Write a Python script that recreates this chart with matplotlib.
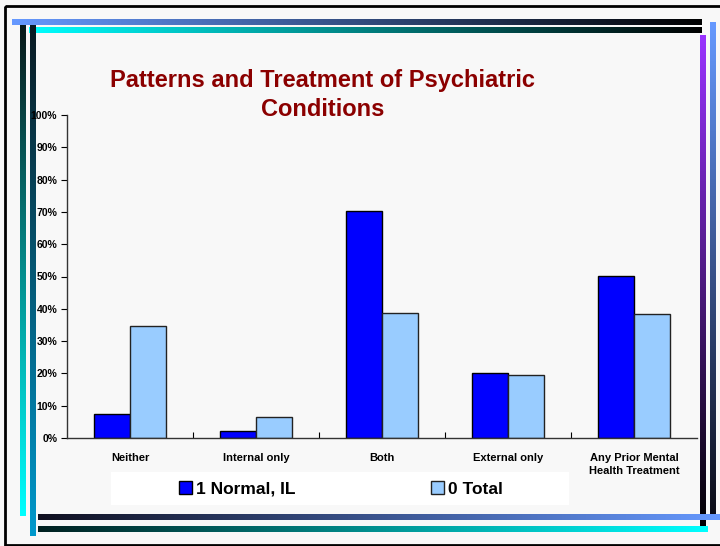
import matplotlib.pyplot as plt
import numpy as np
from matplotlib.patches import Rectangle

plt.rcParams['font.family'] = ['Liberation Sans', 'DejaVu Sans']

categories = ["Neither", "Internal only", "Both", "External only", "Any Prior Mental\nHealth Treatment"]
normal_il = [7.4, 2.2, 70.4, 20.1, 50.2]
total = [34.7, 6.6, 38.8, 19.5, 38.4]
series_names = ["1 Normal, IL", "0 Total"]
yticks = [0, 10, 20, 30, 40, 50, 60, 70, 80, 90, 100]

bg = '#f8f8f8'
fig = plt.figure(figsize=(7.2, 5.46), dpi=100, facecolor=bg)

# decoration layer in pixel coords
deco = fig.add_axes([0, 0, 1, 1])
deco.set_xlim(0, 720)
deco.set_ylim(546, 0)
deco.axis('off')
deco.set_zorder(0)


def grad_bar(x0, x1, y0, y1, c0, c1, horizontal=True):
    c0 = np.array(plt.matplotlib.colors.to_rgb(c0))
    c1 = np.array(plt.matplotlib.colors.to_rgb(c1))
    t = np.linspace(0, 1, 256)
    cols = c0[None, :] * (1 - t[:, None]) + c1[None, :] * t[:, None]
    img = cols[None, :, :] if horizontal else cols[:, None, :]
    deco.imshow(img, extent=(x0, x1, y1, y0), aspect='auto', interpolation='bilinear')


# outer frame
deco.add_patch(Rectangle((4.5, 5.5), 730, 539, fill=False, edgecolor='black', lw=2))
# top bars
grad_bar(12, 702, 19, 25, '#6699ff', '#000000')
grad_bar(29, 702, 27, 33, '#00ffff', '#000000')
# left bars
grad_bar(20, 26, 25, 516, '#0a1a1a', '#00ffff', horizontal=False)
grad_bar(30, 36, 25, 536, '#0a1a22', '#0099cc', horizontal=False)
# right bars
grad_bar(700, 706, 35, 530, '#9933ff', '#000000', horizontal=False)
grad_bar(710, 716, 22, 520, '#6699ff', '#0a0a14', horizontal=False)
# bottom bars
grad_bar(38, 722, 514, 520, '#101020', '#6699ff')
grad_bar(38, 708, 526, 532, '#002020', '#00ffff')
deco.set_xlim(0, 720)
deco.set_ylim(546, 0)

# legend box
deco.add_patch(Rectangle((111, 472), 458, 33, facecolor='white', edgecolor='none'))

ax = fig.add_axes([67 / 720, 108 / 546, 630 / 720, 323 / 546])
ax.set_zorder(2)
ax.set_facecolor('none')

x = np.arange(len(categories))
w = 0.286
b1 = ax.bar(x - w / 2, normal_il, w, color='#0000ff', edgecolor='black', lw=1, label=series_names[0])
b2 = ax.bar(x + w / 2, total, w, color='#99ccff', edgecolor='#222222', lw=1, label=series_names[1])

ax.set_xlim(-0.5, len(categories) - 0.5)
ax.set_ylim(0, 100)
ax.set_yticks(yticks)
ax.set_yticklabels([f"{v}%" for v in yticks], fontsize=7.5, fontweight='bold')
ax.tick_params(axis='y', direction='out', length=4, width=0.8, pad=3)

ax.set_xticks(np.arange(len(categories) - 1) + 0.5)
ax.set_xticklabels([])
ax.tick_params(axis='x', which='major', direction='in', length=4, width=0.8)
ax.set_xticks(x, minor=True)
ax.set_xticklabels(categories, minor=True, fontsize=8, fontweight='bold', linespacing=1.35)
ax.tick_params(axis='x', which='minor', length=0, pad=11)

for s in ['top', 'right']:
    ax.spines[s].set_visible(False)
for s in ['left', 'bottom']:
    ax.spines[s].set_color('#333333')
    ax.spines[s].set_linewidth(1)

fig.text(322.5 / 720, 1 - 95 / 546, "Patterns and Treatment of Psychiatric\nConditions",
         ha='center', va='center', fontsize=17, fontweight='bold', color='#8b0000',
         linespacing=1.35)

leg = fig.legend(handles=[b1, b2], labels=series_names, loc='center',
                 bbox_to_anchor=(341 / 720, 1 - 489 / 546), ncol=2, frameon=False,
                 prop={'weight': 'bold', 'size': 12.5}, handlelength=0.75, handleheight=0.8,
                 handletextpad=0.25, columnspacing=7.8)
leg.set_zorder(3)

fig.savefig('out.png', dpi=100, facecolor=bg)
